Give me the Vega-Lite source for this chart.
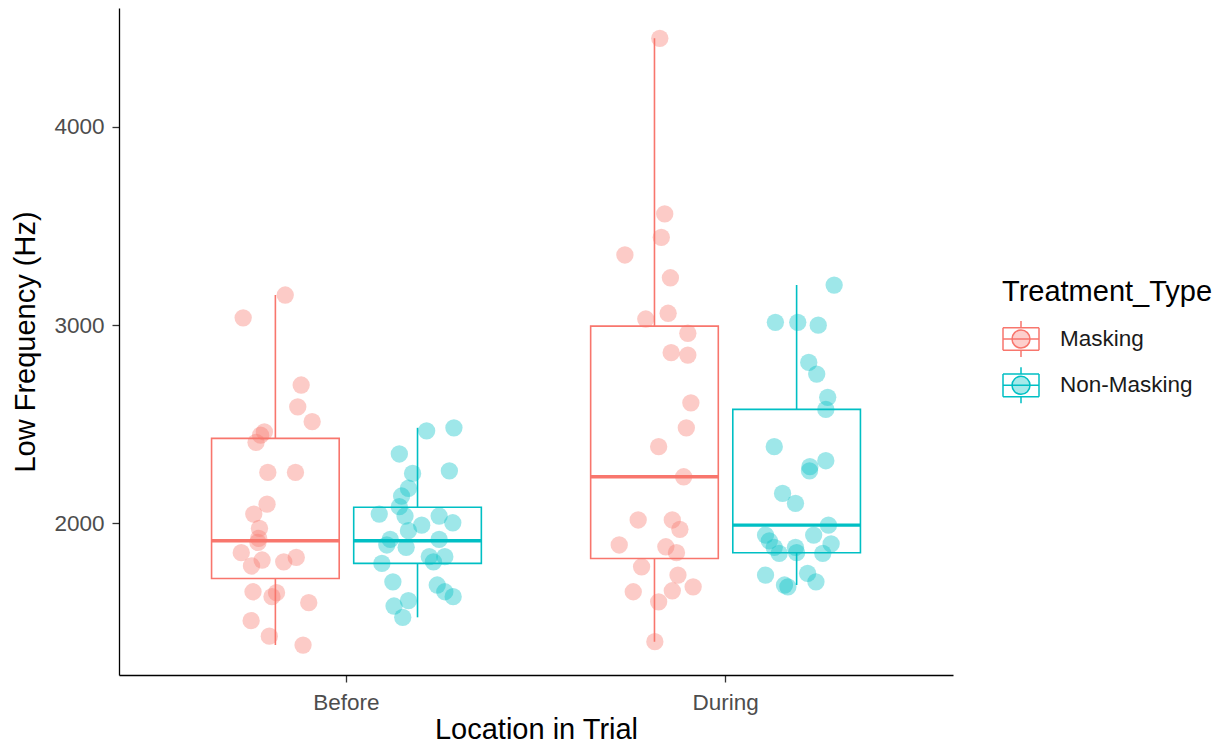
{
  "$schema": "https://vega.github.io/schema/vega-lite/v6.json",
  "width": 834,
  "height": 667,
  "autosize": "none",
  "padding": {"left": 119, "top": 8, "right": 269, "bottom": 71},
  "background": "white",
  "config": {
    "view": {"stroke": null},
    "font": "Liberation Sans",
    "axis": {
      "grid": false,
      "domainColor": "#000000",
      "domainWidth": 1.3,
      "tickColor": "#333333",
      "tickWidth": 1.3,
      "tickSize": 7,
      "labelFontSize": 22.5,
      "labelColor": "#4D4D4D",
      "titleFontSize": 29,
      "titleFontWeight": "normal",
      "titleColor": "#000000"
    }
  },
  "datasets": {
    "boxes": [
      {"Location": "Before", "Treatment_Type": "Masking", "lower": 1386, "q1": 1722, "median": 1912, "q3": 2429, "upper": 3152},
      {"Location": "Before", "Treatment_Type": "Non-Masking", "lower": 1526, "q1": 1798, "median": 1912, "q3": 2081, "upper": 2482},
      {"Location": "During", "Treatment_Type": "Masking", "lower": 1403, "q1": 1823, "median": 2235, "q3": 2995, "upper": 4447},
      {"Location": "During", "Treatment_Type": "Non-Masking", "lower": 1689, "q1": 1852, "median": 1991, "q3": 2575, "upper": 3202}
    ],
    "points": [
      {"Location": "Before", "Treatment_Type": "Masking", "Low_Frequency": 3152, "jitter": 0.026},
      {"Location": "Before", "Treatment_Type": "Masking", "Low_Frequency": 3037, "jitter": -0.085},
      {"Location": "Before", "Treatment_Type": "Masking", "Low_Frequency": 2698, "jitter": 0.068},
      {"Location": "Before", "Treatment_Type": "Masking", "Low_Frequency": 2588, "jitter": 0.059},
      {"Location": "Before", "Treatment_Type": "Masking", "Low_Frequency": 2513, "jitter": 0.097},
      {"Location": "Before", "Treatment_Type": "Masking", "Low_Frequency": 2462, "jitter": -0.029},
      {"Location": "Before", "Treatment_Type": "Masking", "Low_Frequency": 2445, "jitter": -0.039},
      {"Location": "Before", "Treatment_Type": "Masking", "Low_Frequency": 2409, "jitter": -0.051},
      {"Location": "Before", "Treatment_Type": "Masking", "Low_Frequency": 2257, "jitter": -0.020},
      {"Location": "Before", "Treatment_Type": "Masking", "Low_Frequency": 2257, "jitter": 0.053},
      {"Location": "Before", "Treatment_Type": "Masking", "Low_Frequency": 2097, "jitter": -0.022},
      {"Location": "Before", "Treatment_Type": "Masking", "Low_Frequency": 2047, "jitter": -0.057},
      {"Location": "Before", "Treatment_Type": "Masking", "Low_Frequency": 1975, "jitter": -0.042},
      {"Location": "Before", "Treatment_Type": "Masking", "Low_Frequency": 1924, "jitter": -0.044},
      {"Location": "Before", "Treatment_Type": "Masking", "Low_Frequency": 1904, "jitter": -0.046},
      {"Location": "Before", "Treatment_Type": "Masking", "Low_Frequency": 1852, "jitter": -0.090},
      {"Location": "Before", "Treatment_Type": "Masking", "Low_Frequency": 1815, "jitter": -0.035},
      {"Location": "Before", "Treatment_Type": "Masking", "Low_Frequency": 1785, "jitter": -0.063},
      {"Location": "Before", "Treatment_Type": "Masking", "Low_Frequency": 1806, "jitter": 0.022},
      {"Location": "Before", "Treatment_Type": "Masking", "Low_Frequency": 1828, "jitter": 0.055},
      {"Location": "Before", "Treatment_Type": "Masking", "Low_Frequency": 1655, "jitter": -0.059},
      {"Location": "Before", "Treatment_Type": "Masking", "Low_Frequency": 1650, "jitter": 0.003},
      {"Location": "Before", "Treatment_Type": "Masking", "Low_Frequency": 1630, "jitter": -0.009},
      {"Location": "Before", "Treatment_Type": "Masking", "Low_Frequency": 1600, "jitter": 0.088},
      {"Location": "Before", "Treatment_Type": "Masking", "Low_Frequency": 1509, "jitter": -0.064},
      {"Location": "Before", "Treatment_Type": "Masking", "Low_Frequency": 1431, "jitter": -0.016},
      {"Location": "Before", "Treatment_Type": "Masking", "Low_Frequency": 1386, "jitter": 0.073},

      {"Location": "Before", "Treatment_Type": "Non-Masking", "Low_Frequency": 2467, "jitter": 0.024},
      {"Location": "Before", "Treatment_Type": "Non-Masking", "Low_Frequency": 2482, "jitter": 0.096},
      {"Location": "Before", "Treatment_Type": "Non-Masking", "Low_Frequency": 2350, "jitter": -0.048},
      {"Location": "Before", "Treatment_Type": "Non-Masking", "Low_Frequency": 2265, "jitter": 0.084},
      {"Location": "Before", "Treatment_Type": "Non-Masking", "Low_Frequency": 2252, "jitter": -0.013},
      {"Location": "Before", "Treatment_Type": "Non-Masking", "Low_Frequency": 2177, "jitter": -0.024},
      {"Location": "Before", "Treatment_Type": "Non-Masking", "Low_Frequency": 2138, "jitter": -0.042},
      {"Location": "Before", "Treatment_Type": "Non-Masking", "Low_Frequency": 2084, "jitter": -0.048},
      {"Location": "Before", "Treatment_Type": "Non-Masking", "Low_Frequency": 2047, "jitter": -0.101},
      {"Location": "Before", "Treatment_Type": "Non-Masking", "Low_Frequency": 2037, "jitter": -0.033},
      {"Location": "Before", "Treatment_Type": "Non-Masking", "Low_Frequency": 2037, "jitter": 0.057},
      {"Location": "Before", "Treatment_Type": "Non-Masking", "Low_Frequency": 2003, "jitter": 0.093},
      {"Location": "Before", "Treatment_Type": "Non-Masking", "Low_Frequency": 1991, "jitter": 0.011},
      {"Location": "Before", "Treatment_Type": "Non-Masking", "Low_Frequency": 1963, "jitter": -0.024},
      {"Location": "Before", "Treatment_Type": "Non-Masking", "Low_Frequency": 1919, "jitter": 0.057},
      {"Location": "Before", "Treatment_Type": "Non-Masking", "Low_Frequency": 1919, "jitter": -0.072},
      {"Location": "Before", "Treatment_Type": "Non-Masking", "Low_Frequency": 1891, "jitter": -0.081},
      {"Location": "Before", "Treatment_Type": "Non-Masking", "Low_Frequency": 1879, "jitter": -0.030},
      {"Location": "Before", "Treatment_Type": "Non-Masking", "Low_Frequency": 1832, "jitter": 0.031},
      {"Location": "Before", "Treatment_Type": "Non-Masking", "Low_Frequency": 1832, "jitter": 0.072},
      {"Location": "Before", "Treatment_Type": "Non-Masking", "Low_Frequency": 1806, "jitter": 0.042},
      {"Location": "Before", "Treatment_Type": "Non-Masking", "Low_Frequency": 1798, "jitter": -0.094},
      {"Location": "Before", "Treatment_Type": "Non-Masking", "Low_Frequency": 1705, "jitter": -0.065},
      {"Location": "Before", "Treatment_Type": "Non-Masking", "Low_Frequency": 1689, "jitter": 0.052},
      {"Location": "Before", "Treatment_Type": "Non-Masking", "Low_Frequency": 1655, "jitter": 0.072},
      {"Location": "Before", "Treatment_Type": "Non-Masking", "Low_Frequency": 1630, "jitter": 0.094},
      {"Location": "Before", "Treatment_Type": "Non-Masking", "Low_Frequency": 1610, "jitter": -0.024},
      {"Location": "Before", "Treatment_Type": "Non-Masking", "Low_Frequency": 1583, "jitter": -0.062},
      {"Location": "Before", "Treatment_Type": "Non-Masking", "Low_Frequency": 1526, "jitter": -0.039},

      {"Location": "During", "Treatment_Type": "Masking", "Low_Frequency": 4447, "jitter": 0.014},
      {"Location": "During", "Treatment_Type": "Masking", "Low_Frequency": 3561, "jitter": 0.027},
      {"Location": "During", "Treatment_Type": "Masking", "Low_Frequency": 3443, "jitter": 0.018},
      {"Location": "During", "Treatment_Type": "Masking", "Low_Frequency": 3354, "jitter": -0.078},
      {"Location": "During", "Treatment_Type": "Masking", "Low_Frequency": 3239, "jitter": 0.042},
      {"Location": "During", "Treatment_Type": "Masking", "Low_Frequency": 3060, "jitter": 0.036},
      {"Location": "During", "Treatment_Type": "Masking", "Low_Frequency": 3031, "jitter": -0.023},
      {"Location": "During", "Treatment_Type": "Masking", "Low_Frequency": 2959, "jitter": 0.088},
      {"Location": "During", "Treatment_Type": "Masking", "Low_Frequency": 2861, "jitter": 0.044},
      {"Location": "During", "Treatment_Type": "Masking", "Low_Frequency": 2849, "jitter": 0.088},
      {"Location": "During", "Treatment_Type": "Masking", "Low_Frequency": 2608, "jitter": 0.096},
      {"Location": "During", "Treatment_Type": "Masking", "Low_Frequency": 2482, "jitter": 0.084},
      {"Location": "During", "Treatment_Type": "Masking", "Low_Frequency": 2387, "jitter": 0.011},
      {"Location": "During", "Treatment_Type": "Masking", "Low_Frequency": 2235, "jitter": 0.077},
      {"Location": "During", "Treatment_Type": "Masking", "Low_Frequency": 2017, "jitter": -0.043},
      {"Location": "During", "Treatment_Type": "Masking", "Low_Frequency": 2017, "jitter": 0.047},
      {"Location": "During", "Treatment_Type": "Masking", "Low_Frequency": 1970, "jitter": 0.067},
      {"Location": "During", "Treatment_Type": "Masking", "Low_Frequency": 1891, "jitter": -0.093},
      {"Location": "During", "Treatment_Type": "Masking", "Low_Frequency": 1882, "jitter": 0.030},
      {"Location": "During", "Treatment_Type": "Masking", "Low_Frequency": 1852, "jitter": 0.058},
      {"Location": "During", "Treatment_Type": "Masking", "Low_Frequency": 1781, "jitter": -0.034},
      {"Location": "During", "Treatment_Type": "Masking", "Low_Frequency": 1739, "jitter": 0.062},
      {"Location": "During", "Treatment_Type": "Masking", "Low_Frequency": 1680, "jitter": 0.102},
      {"Location": "During", "Treatment_Type": "Masking", "Low_Frequency": 1660, "jitter": 0.047},
      {"Location": "During", "Treatment_Type": "Masking", "Low_Frequency": 1655, "jitter": -0.056},
      {"Location": "During", "Treatment_Type": "Masking", "Low_Frequency": 1604, "jitter": 0.011},
      {"Location": "During", "Treatment_Type": "Masking", "Low_Frequency": 1403, "jitter": 0.001},

      {"Location": "During", "Treatment_Type": "Non-Masking", "Low_Frequency": 3202, "jitter": 0.099},
      {"Location": "During", "Treatment_Type": "Non-Masking", "Low_Frequency": 3014, "jitter": -0.056},
      {"Location": "During", "Treatment_Type": "Non-Masking", "Low_Frequency": 3014, "jitter": 0.003},
      {"Location": "During", "Treatment_Type": "Non-Masking", "Low_Frequency": 3000, "jitter": 0.057},
      {"Location": "During", "Treatment_Type": "Non-Masking", "Low_Frequency": 2812, "jitter": 0.032},
      {"Location": "During", "Treatment_Type": "Non-Masking", "Low_Frequency": 2753, "jitter": 0.053},
      {"Location": "During", "Treatment_Type": "Non-Masking", "Low_Frequency": 2636, "jitter": 0.082},
      {"Location": "During", "Treatment_Type": "Non-Masking", "Low_Frequency": 2575, "jitter": 0.077},
      {"Location": "During", "Treatment_Type": "Non-Masking", "Low_Frequency": 2387, "jitter": -0.059},
      {"Location": "During", "Treatment_Type": "Non-Masking", "Low_Frequency": 2316, "jitter": 0.077},
      {"Location": "During", "Treatment_Type": "Non-Masking", "Low_Frequency": 2286, "jitter": 0.035},
      {"Location": "During", "Treatment_Type": "Non-Masking", "Low_Frequency": 2265, "jitter": 0.034},
      {"Location": "During", "Treatment_Type": "Non-Masking", "Low_Frequency": 2151, "jitter": -0.037},
      {"Location": "During", "Treatment_Type": "Non-Masking", "Low_Frequency": 2101, "jitter": -0.003},
      {"Location": "During", "Treatment_Type": "Non-Masking", "Low_Frequency": 1991, "jitter": 0.084},
      {"Location": "During", "Treatment_Type": "Non-Masking", "Low_Frequency": 1941, "jitter": 0.045},
      {"Location": "During", "Treatment_Type": "Non-Masking", "Low_Frequency": 1941, "jitter": -0.082},
      {"Location": "During", "Treatment_Type": "Non-Masking", "Low_Frequency": 1912, "jitter": -0.072},
      {"Location": "During", "Treatment_Type": "Non-Masking", "Low_Frequency": 1879, "jitter": -0.059},
      {"Location": "During", "Treatment_Type": "Non-Masking", "Low_Frequency": 1896, "jitter": 0.091},
      {"Location": "During", "Treatment_Type": "Non-Masking", "Low_Frequency": 1879, "jitter": -0.003},
      {"Location": "During", "Treatment_Type": "Non-Masking", "Low_Frequency": 1849, "jitter": -0.046},
      {"Location": "During", "Treatment_Type": "Non-Masking", "Low_Frequency": 1852, "jitter": 0.000},
      {"Location": "During", "Treatment_Type": "Non-Masking", "Low_Frequency": 1849, "jitter": 0.069},
      {"Location": "During", "Treatment_Type": "Non-Masking", "Low_Frequency": 1739, "jitter": -0.082},
      {"Location": "During", "Treatment_Type": "Non-Masking", "Low_Frequency": 1748, "jitter": 0.029},
      {"Location": "During", "Treatment_Type": "Non-Masking", "Low_Frequency": 1705, "jitter": 0.051},
      {"Location": "During", "Treatment_Type": "Non-Masking", "Low_Frequency": 1689, "jitter": -0.032},
      {"Location": "During", "Treatment_Type": "Non-Masking", "Low_Frequency": 1680, "jitter": -0.023}
    ]
  },
  "encoding": {
    "x": {
      "field": "Location",
      "type": "nominal",
      "scale": {"domain": ["Before", "During"], "paddingInner": 0, "paddingOuter": 0.1},
      "axis": {"title": "Location in Trial", "labelAngle": 0, "labelPadding": 9, "titlePadding": 2}
    },
    "color": {
      "field": "Treatment_Type",
      "type": "nominal",
      "scale": {"domain": ["Masking", "Non-Masking"], "range": ["#F8766D", "#00BFC4"]},
      "legend": {
        "title": "Treatment_Type",
        "orient": "none",
        "legendX": 883,
        "legendY": 270,
        "titleFontSize": 29,
        "titleFontWeight": "normal",
        "titleColor": "#000000",
        "titleLimit": 400,
        "titlePadding": 13,
        "labelFontSize": 22.5,
        "labelColor": "#1A1A1A",
        "labelLimit": 300,
        "labelOffset": 20,
        "rowPadding": 4.3,
        "symbolType": "M0,-1L0,-0.63M-1,-0.63L1,-0.63M1,-0.63L1,0.63M1,0.63L-1,0.63M-1,0.63L-1,-0.63M-1,0L1,0M0,0.63L0,1M0.5,0A0.5,0.5,0,1,1,-0.5,0A0.5,0.5,0,1,1,0.5,0Z",
        "symbolSize": 1296,
        "symbolStrokeWidth": 1.5,
        "encode": {
          "symbols": {
            "update": {
              "fill": {"scale": "color", "field": "value"},
              "fillOpacity": {"value": 0.35},
              "stroke": {"scale": "color", "field": "value"},
              "strokeOpacity": {"value": 1},
              "opacity": {"value": 1}
            }
          }
        }
      }
    }
  },
  "layer": [
    {
      "data": {"name": "boxes"},
      "mark": {"type": "rule", "strokeWidth": 1.6},
      "encoding": {
        "xOffset": {
          "field": "Treatment_Type",
          "type": "nominal",
          "scale": {"domain": ["Masking", "Non-Masking"], "paddingInner": 0.102, "paddingOuter": 0.3845}
        },
        "y": {
          "field": "lower",
          "type": "quantitative",
          "scale": {"domain": [1235, 4600], "nice": false, "zero": false},
          "axis": {"title": "Low Frequency (Hz)", "values": [2000, 3000, 4000], "format": "d", "labelPadding": 8, "titlePadding": 13}
        },
        "y2": {"field": "upper"}
      }
    },
    {
      "data": {"name": "boxes"},
      "mark": {"type": "bar", "filled": false, "fill": "white", "strokeWidth": 1.6},
      "encoding": {
        "xOffset": {"field": "Treatment_Type", "type": "nominal"},
        "y": {"field": "q1", "type": "quantitative", "title": "Low Frequency (Hz)"},
        "y2": {"field": "q3"}
      }
    },
    {
      "data": {"name": "boxes"},
      "mark": {"type": "bar", "filled": false, "strokeWidth": 3.4},
      "encoding": {
        "xOffset": {"field": "Treatment_Type", "type": "nominal"},
        "y": {"field": "median", "type": "quantitative", "title": "Low Frequency (Hz)"},
        "y2": {"field": "median"}
      }
    },
    {
      "data": {"name": "points"},
      "mark": {
        "type": "circle",
        "size": 300,
        "opacity": 0.38,
        "xOffset": {"expr": "scale('xOffset', datum.Treatment_Type) + bandwidth('xOffset') / 2 - bandwidth('x') / 2 + datum.jitter * bandwidth('x')"}
      },
      "encoding": {
        "y": {"field": "Low_Frequency", "type": "quantitative", "title": "Low Frequency (Hz)"}
      }
    }
  ]
}
